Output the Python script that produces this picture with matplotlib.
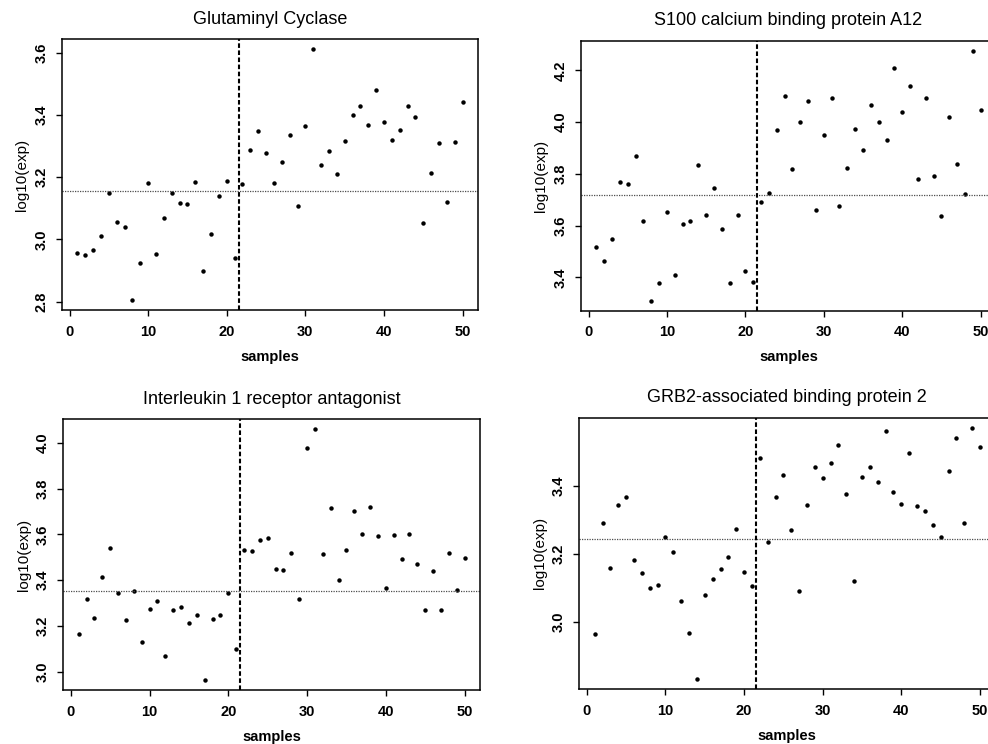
import numpy as np
import matplotlib
matplotlib.use('Agg')
import matplotlib.pyplot as plt
from matplotlib.ticker import MultipleLocator

plt.rcParams['font.family'] = ['Liberation Sans', 'DejaVu Sans']

samples = np.arange(1, 51)
split_at = 21.5

# values (log10 expression per sample)
qpct = [2.957, 2.950, 2.966, 3.011, 3.148, 3.057, 3.039, 2.805, 2.924, 3.181,
        2.954, 3.067, 3.148, 3.116, 3.115, 3.184, 2.899, 3.016, 3.140, 3.187,
        2.940, 3.178, 3.287, 3.348, 3.278, 3.182, 3.249, 3.337, 3.107, 3.364,
        3.612, 3.238, 3.285, 3.209, 3.316, 3.400, 3.429, 3.368, 3.479, 3.377,
        3.320, 3.353, 3.428, 3.393, 3.053, 3.213, 3.309, 3.120, 3.313, 3.443]

s100a12 = [3.517, 3.464, 3.549, 3.767, 3.760, 3.869, 3.617, 3.310, 3.379, 3.653,
           3.408, 3.605, 3.617, 3.833, 3.640, 3.747, 3.588, 3.378, 3.643, 3.424,
           3.381, 3.693, 3.728, 3.969, 4.101, 3.820, 4.001, 4.081, 3.660, 3.950,
           4.094, 3.677, 3.823, 3.974, 3.891, 4.067, 4.001, 3.931, 4.209, 4.038,
           4.138, 3.781, 4.095, 3.792, 3.636, 4.021, 3.838, 3.723, 4.276, 4.045]

il1rn = [3.166, 3.319, 3.237, 3.416, 3.541, 3.346, 3.226, 3.352, 3.131, 3.274,
         3.309, 3.068, 3.271, 3.282, 3.214, 3.247, 2.964, 3.230, 3.249, 3.342,
         3.099, 3.534, 3.527, 3.575, 3.584, 3.450, 3.443, 3.521, 3.317, 3.978,
         4.061, 3.514, 3.715, 3.402, 3.533, 3.703, 3.600, 3.722, 3.594, 3.367,
         3.598, 3.492, 3.601, 3.472, 3.271, 3.441, 3.268, 3.520, 3.357, 3.498]

gab2 = [2.965, 3.289, 3.160, 3.342, 3.366, 3.182, 3.145, 3.099, 3.110, 3.249,
        3.206, 3.063, 2.968, 2.834, 3.081, 3.126, 3.156, 3.192, 3.274, 3.147,
        3.106, 3.480, 3.235, 3.367, 3.430, 3.270, 3.090, 3.343, 3.455, 3.422,
        3.467, 3.519, 3.374, 3.122, 3.425, 3.455, 3.409, 3.560, 3.382, 3.345,
        3.494, 3.340, 3.324, 3.285, 3.249, 3.443, 3.540, 3.291, 3.569, 3.514]

titles = ["Glutaminyl Cyclase", "S100 calcium binding protein A12",
          "Interleukin 1 receptor antagonist", "GRB2-associated binding protein 2"]
series = [qpct, s100a12, il1rn, gab2]
hlines = [3.155, 3.718, 3.352, 3.244]

# axes boxes in pixels (left, top, right, bottom); right panels run off the page
W, H = 988, 744
boxes = [(62, 39, 478, 310), (581, 40.7, 996, 310.7),
         (63.3, 419, 480, 690), (579.3, 417.7, 995.4, 689)]

fig = plt.figure(figsize=(W / 100, H / 100), dpi=100)

for title, y, hl, (l, t, r, b) in zip(titles, series, hlines, boxes):
    ax = fig.add_axes([l / W, 1 - b / H, (r - l) / W, (b - t) / H])
    y = np.array(y)
    ax.plot(samples, y, 'o', color='black', markersize=3.2, markeredgewidth=0)
    ax.axhline(hl, color='0.3', lw=0.9, linestyle=(0, (1, 1)))
    ax.axvline(split_at, color='black', lw=1.5, linestyle=(0, (2.2, 1.2)))

    # R style 4% padding
    xr = samples.max() - samples.min()
    ax.set_xlim(samples.min() - 0.04 * xr, samples.max() + 0.04 * xr)
    yr = y.max() - y.min()
    ax.set_ylim(y.min() - 0.04 * yr, y.max() + 0.04 * yr)

    ax.xaxis.set_major_locator(MultipleLocator(10))
    ax.yaxis.set_major_locator(MultipleLocator(0.2))
    ax.yaxis.set_major_formatter(matplotlib.ticker.FormatStrFormatter('%.1f'))
    ax.tick_params(direction='out', length=4, width=1, pad=6.5, labelsize=10.5)
    ax.tick_params(axis='y', labelrotation=90, pad=5.5)
    for lab in ax.get_xticklabels() + ax.get_yticklabels():
        lab.set_fontweight('bold')
    for lab in ax.get_yticklabels():
        lab.set_verticalalignment('center')
    for sp in ax.spines.values():
        sp.set_linewidth(1.1)

    ax.set_title(title, fontsize=13, pad=11)
    ax.set_xlabel("samples", fontsize=10.5, fontweight='bold', labelpad=8)
    ax.set_ylabel("log10(exp)", fontsize=11, labelpad=4)

fig.savefig('out.png', dpi=100)
